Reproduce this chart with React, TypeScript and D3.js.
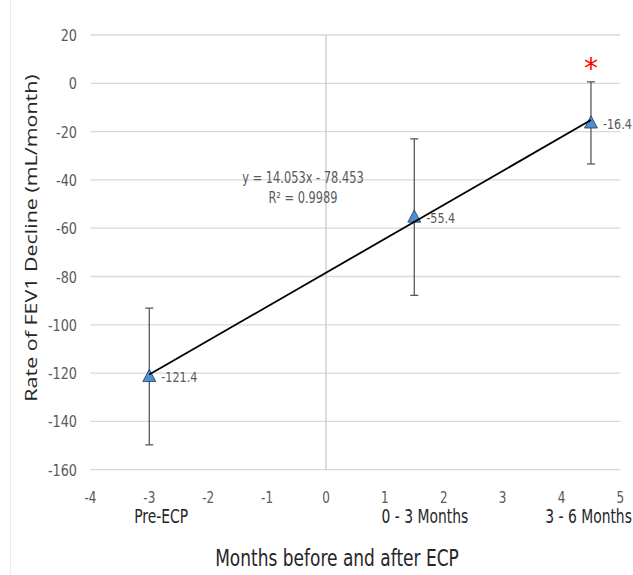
import { useEffect, useRef } from "react";
import * as d3 from "d3";

// data
const xTicks = [-4, -3, -2, -1, 0, 1, 2, 3, 4, 5];
const yTicks = [20, 0, -20, -40, -60, -80, -100, -120, -140, -160];
const pointX = [-3, 1.5, 4.5];
const pointY = [-121.4, -55.4, -16.4];
const pointErr = [28.3, 32.4, 17];
const categories = ["Pre-ECP", "0 - 3 Months", "3 - 6 Months"];
const categoryX = [-2.8, 1.68, 4.46];
const trendSlope = 14.053;
const trendIntercept = -78.453;
const trendText = ["y = 14.053x - 78.453", "R² = 0.9989"];

const W = 633;
const H = 575;
const font = "'DejaVu Sans', sans-serif";

type Sel = d3.Selection<SVGGElement, unknown, null, undefined>;

// text squeezed horizontally, to look like the narrow font of the original
function label(g: Sel, x: number, y: number, txt: string, size: number, sx: number, fill: string, anchor = "start") {
    return g.append("text")
        .attr("transform", `translate(${x},${y}) scale(${sx},1)`)
        .attr("text-anchor", anchor)
        .attr("font-family", font)
        .attr("font-size", size)
        .attr("fill", fill)
        .text(txt);
}

export default function App() {
    const svgRef = useRef<SVGSVGElement | null>(null);

    useEffect(() => {
        if (!svgRef.current) return;
        const svg = d3.select(svgRef.current);
        svg.selectAll("*").remove();
        const root = svg.append("g") as unknown as Sel;

        const x = d3.scaleLinear().domain([-4, 5]).range([90.4, 620.4]);
        const y = d3.scaleLinear().domain([20, -160]).range([35, 469.7]);

        root.append("rect").attr("width", W).attr("height", H).attr("fill", "#fff");
        root.append("line")
            .attr("x1", 10.5).attr("x2", 10.5).attr("y1", 0).attr("y2", H)
            .attr("stroke", "#ececec");

        // horizontal gridlines
        root.append("g")
            .selectAll("line")
            .data(yTicks)
            .enter()
            .append("line")
            .attr("x1", x(-4)).attr("x2", x(5))
            .attr("y1", d => y(d)).attr("y2", d => y(d))
            .attr("stroke", "#d9d9d9")
            .attr("stroke-width", 1.3);

        // vertical axis at x = 0
        root.append("line")
            .attr("x1", x(0)).attr("x2", x(0))
            .attr("y1", y(20)).attr("y2", y(-160))
            .attr("stroke", "#c8c8c8")
            .attr("stroke-width", 1.3);

        // tick labels
        yTicks.forEach(t => label(root, 77, y(t) + 6, String(t), 16, 0.8, "#595959", "end"));
        xTicks.forEach(t => label(root, x(t), 503, String(t), 15, 0.8, "#595959", "middle"));

        // category labels
        categories.forEach((c, i) => label(root, x(categoryX[i]), 523, c, 19, 0.73, "#262626", "middle"));

        // axis titles
        label(root, 337, 566, "Months before and after ECP", 23, 0.74, "#262626", "middle");
        root.append("text")
            .attr("transform", "translate(37,238) rotate(-90) scale(1.3,1)")
            .attr("text-anchor", "middle")
            .attr("font-family", "'Open Sans', sans-serif")
            .attr("font-size", 16.5)
            .attr("fill", "#262626")
            .text("Rate of FEV1 Decline (mL/month)");

        // error bars
        const eb = root.append("g").attr("stroke", "#595959").attr("stroke-width", 1.3);
        pointX.forEach((px, i) => {
            const cx = x(px);
            const top = y(pointY[i] + pointErr[i]);
            const bot = y(pointY[i] - pointErr[i]);
            eb.append("line").attr("x1", cx).attr("x2", cx).attr("y1", top).attr("y2", bot);
            eb.append("line").attr("x1", cx - 4).attr("x2", cx + 4).attr("y1", top).attr("y2", top);
            eb.append("line").attr("x1", cx - 4).attr("x2", cx + 4).attr("y1", bot).attr("y2", bot);
        });

        // markers
        const tri = d3.symbol().type(d3.symbolTriangle).size(72);
        root.append("g")
            .selectAll("path")
            .data(pointX)
            .enter()
            .append("path")
            .attr("d", tri)
            .attr("transform", (d, i) => `translate(${x(d)},${y(pointY[i]) + 1}) scale(1,1.1)`)
            .attr("fill", "#4f8fd0")
            .attr("stroke", "#1f3f66")
            .attr("stroke-width", 0.8);

        // trendline
        const xs = d3.extent(pointX) as [number, number];
        const trend = d3.line<number>()
            .x(d => x(d))
            .y(d => y(trendSlope * d + trendIntercept));
        root.append("path")
            .datum(xs)
            .attr("d", trend)
            .attr("fill", "none")
            .attr("stroke", "#000")
            .attr("stroke-width", 1.8);

        // data labels
        pointY.forEach((v, i) => label(root, x(pointX[i]) + 12, y(v) + 6, v.toFixed(1), 14, 0.8, "#595959"));

        // trendline equation
        trendText.forEach((t, i) => label(root, 303, 183 + i * 20, t, 15, 0.76, "#595959", "middle"));

        // significance marker
        root.append("text")
            .attr("x", x(pointX[2]))
            .attr("y", 78)
            .attr("text-anchor", "middle")
            .attr("font-family", font)
            .attr("font-size", 28)
            .attr("fill", "#ff0000")
            .text("*");
    }, []);

    return (
        <svg
            ref={svgRef}
            width={W}
            height={H}
            style={{ position: "absolute", left: 0, top: 0, display: "block" }}
        />
    );
}
